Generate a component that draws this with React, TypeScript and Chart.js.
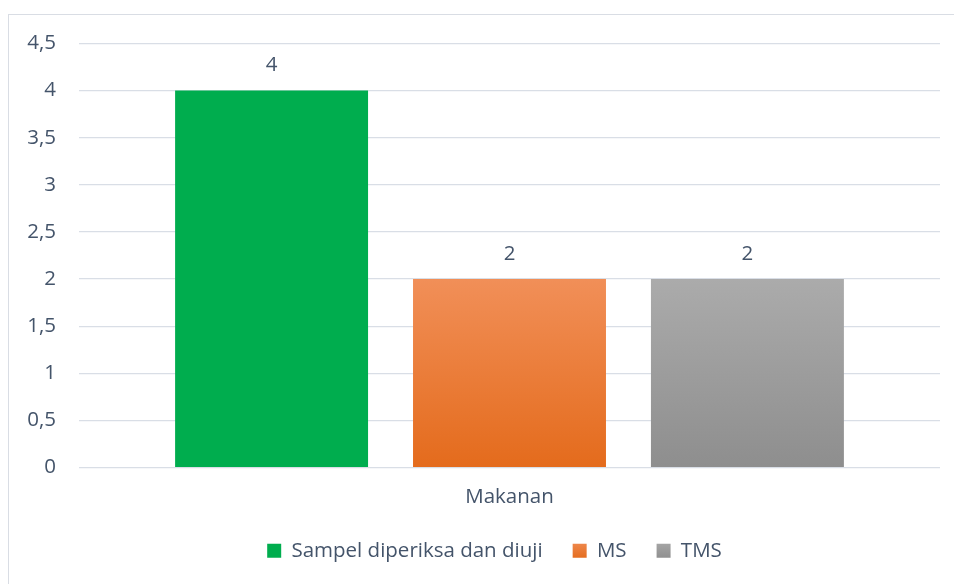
import React, { useEffect, useRef } from "react";
import { Chart, registerables } from "chart.js";

Chart.register(...registerables);

const categories = ["Makanan"];
const seriesNames = ["Sampel diperiksa dan diuji", "MS", "TMS"];
const sampelValues = [4];
const msValues = [2];
const tmsValues = [2];
const yTicks = [0, 0.5, 1, 1.5, 2, 2.5, 3, 3.5, 4, 4.5];

const TEXT = "#44546a";
const FONT = "'Open Sans', sans-serif";
const FS = 20.5;

const GREEN = "#00ad4e";
const ORANGE_TOP = "#f18f58";
const ORANGE_BOT = "#e46b1c";
const GRAY_TOP = "#ababab";
const GRAY_BOT = "#8e8e8e";

function barGradient(top: string, bot: string, solid: string) {
  return (ctx: any) => {
    const chart = ctx.chart;
    if (!chart.chartArea || ctx.type !== "data") return solid;
    const ys = chart.scales.y;
    const v = ctx.raw as number;
    const y0 = ys.getPixelForValue(v);
    const y1 = ys.getPixelForValue(0);
    const g = chart.ctx.createLinearGradient(0, y0, 0, y1);
    g.addColorStop(0, top);
    g.addColorStop(1, bot);
    return g;
  };
}

const valueLabels = {
  id: "valueLabels",
  afterDatasetsDraw(chart: any) {
    const c = chart.ctx;
    c.save();
    c.font = `${FS}px ${FONT}`;
    c.fillStyle = TEXT;
    c.textAlign = "center";
    c.textBaseline = "middle";
    chart.data.datasets.forEach((ds: any, i: number) => {
      const meta = chart.getDatasetMeta(i);
      meta.data.forEach((el: any, j: number) => {
        c.fillText(String(ds.data[j]).replace(".", ","), el.x, el.y - 25);
      });
    });
    c.restore();
  },
};

const legendShift = {
  id: "legendShift",
  afterLayout(chart: any) {
    const lg = chart.legend;
    if (lg) {
      lg.left += 20;
      lg.right += 20;
    }
  },
};

export default function App() {
  const ref = useRef<HTMLCanvasElement>(null);
  useEffect(() => {
    document.documentElement.style.overflow = "hidden";
    document.body.style.overflow = "hidden";
    const canvas = ref.current!;
    const legendGrad = (top: string, bot: string) => {
      const h = canvas.height;
      const g = canvas.getContext("2d")!.createLinearGradient(0, h - 45, 0, h - 25);
      g.addColorStop(0, top);
      g.addColorStop(1, bot);
      return g;
    };
    const legendFills = [GREEN, legendGrad(ORANGE_TOP, ORANGE_BOT), legendGrad(GRAY_TOP, GRAY_BOT)];
    const chart = new Chart(canvas, {
      type: "bar",
      data: {
        labels: categories,
        datasets: [
          { label: seriesNames[0], data: sampelValues, backgroundColor: GREEN },
          { label: seriesNames[1], data: msValues, backgroundColor: barGradient(ORANGE_TOP, ORANGE_BOT, ORANGE_BOT) },
          { label: seriesNames[2], data: tmsValues, backgroundColor: barGradient(GRAY_TOP, GRAY_BOT, GRAY_BOT) },
        ],
      },
      options: {
        animation: false,
        responsive: false,
        maintainAspectRatio: false,
        layout: { autoPadding: false, padding: { top: 28.5, right: 14, left: 0, bottom: 13 } },
        datasets: { bar: { categoryPercentage: 0.829, barPercentage: 0.811 } },
        scales: {
          x: {
            grid: { display: false, drawTicks: false },
            border: { display: false },
            ticks: { font: { family: FONT, size: FS }, color: TEXT, padding: 17 },
            afterFit: (s: any) => { s.height = 43; s.paddingLeft = 0; s.paddingRight = 0; },
          },
          y: {
            min: 0,
            max: 4.5,
            afterBuildTicks: (s: any) => { s.ticks = yTicks.map((v) => ({ value: v })); },
            ticks: {
              font: { family: FONT, size: FS },
              color: TEXT,
              padding: 23,
              callback: (v: any) => String(v).replace(".", ","),
            },
            grid: { color: "#d9dee6", lineWidth: 1.2, drawTicks: false },
            border: { display: false },
            afterFit: (s: any) => { s.width = 70; s.paddingTop = 0; s.paddingBottom = 0; },
          },
        },
        plugins: {
          legend: {
            position: "bottom",
            labels: {
              boxWidth: 14,
              boxHeight: 14,
              padding: 30,
              color: TEXT,
              font: { family: FONT, size: FS },
              generateLabels: (ch: any) =>
                ch.data.datasets.map((ds: any, i: number) => ({
                  text: ds.label,
                  fillStyle: legendFills[i],
                  strokeStyle: "rgba(0,0,0,0)",
                  lineWidth: 0,
                  fontColor: TEXT,
                  datasetIndex: i,
                  hidden: false,
                })),
            },
          },
          tooltip: { enabled: false },
        },
      },
      plugins: [valueLabels, legendShift],
    });
    return () => chart.destroy();
  }, []);
  return (
    <div
      style={{
        position: "absolute",
        left: 8,
        top: 14,
        width: 960,
        height: 600,
        border: "1px solid #d9dde4",
        background: "#fff",
      }}
    >
      <canvas ref={ref} width={945} height={569} style={{ display: "block" }} />
    </div>
  );
}
